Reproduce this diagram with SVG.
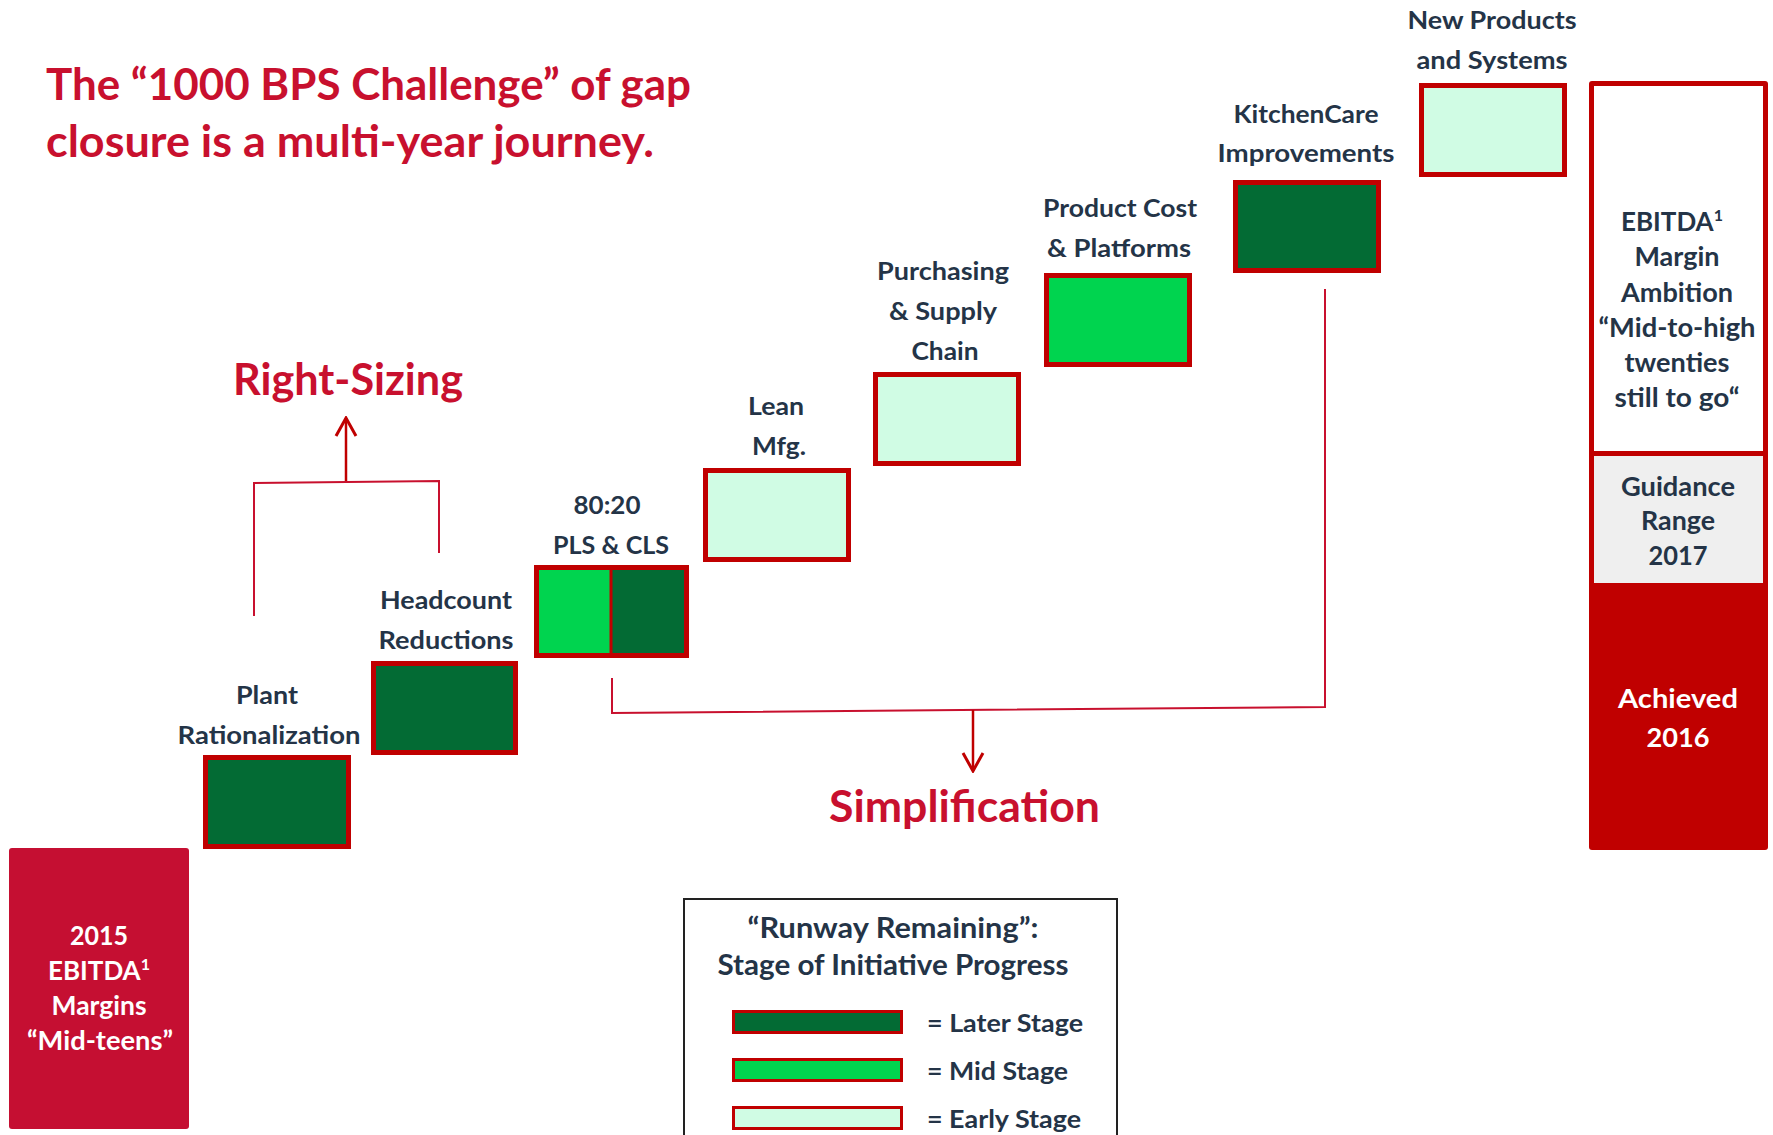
<svg xmlns="http://www.w3.org/2000/svg" width="1773" height="1135" viewBox="0 0 1773 1135">
<defs>
<style>
text{font-family:Lato,"Open Sans","Liberation Sans",sans-serif;font-weight:700}
.ttl{fill:#C8102E;font-size:44px}
.lbl{fill:#243447;font-size:25px;text-anchor:middle}
.col{fill:#243447;font-size:26px;text-anchor:middle}
.wht{fill:#FFFFFF;font-size:26px;text-anchor:middle}
.leg{fill:#243447;font-size:25px}
.legt{fill:#243447;font-size:28px;text-anchor:middle}
.box{stroke:#C00000;stroke-width:5}
.late{fill:#036B34}
.mid{fill:#00D44F}
.early{fill:#D0FCE4}
.conn{fill:none;stroke:#C8102E;stroke-width:2}
.arr{fill:none;stroke:#C00000;stroke-width:2.5}
</style>
<marker id="ah" viewBox="-21 -12 23 24" refX="0" refY="0" markerWidth="23" markerHeight="24" markerUnits="userSpaceOnUse" orient="auto">
<path d="M-18,-10 L0,0 L-18,10" fill="none" stroke="#C00000" stroke-width="3"/>
</marker>
</defs>
<rect width="1773" height="1135" fill="#FFFFFF"/>

<g id="title">
<text class="ttl" x="46" y="100" textLength="645" lengthAdjust="spacingAndGlyphs">The “1000 BPS Challenge” of gap</text>
<text class="ttl" x="46" y="157" textLength="608" lengthAdjust="spacingAndGlyphs">closure is a multi-year journey.</text>
</g>

<g id="start">
<rect x="9" y="848" width="180" height="281" rx="3" fill="#C50F32"/>
<text class="wht" x="99" y="945" textLength="58" lengthAdjust="spacingAndGlyphs">2015</text>
<text class="wht" x="99" y="980">EBITDA<tspan font-size="16" dy="-10">1</tspan></text>
<text class="wht" x="99" y="1015" textLength="95" lengthAdjust="spacingAndGlyphs">Margins</text>
<text class="wht" x="100" y="1050" textLength="146" lengthAdjust="spacingAndGlyphs">“Mid-teens”</text>
</g>

<g id="plant">
<rect class="box late" x="205.5" y="757.5" width="143" height="89"/>
<text class="lbl" x="267" y="704" textLength="62" lengthAdjust="spacingAndGlyphs">Plant</text>
<text class="lbl" x="269" y="744" textLength="183" lengthAdjust="spacingAndGlyphs">Rationalization</text>
</g>

<g id="headcount">
<rect class="box late" x="373.5" y="663.5" width="142" height="89"/>
<text class="lbl" x="446" y="609" textLength="132" lengthAdjust="spacingAndGlyphs">Headcount</text>
<text class="lbl" x="446" y="649" textLength="135" lengthAdjust="spacingAndGlyphs">Reductions</text>
</g>

<g id="pls">
<rect class="mid" x="536.5" y="567.5" width="74" height="88"/>
<rect class="late" x="611" y="567.5" width="75" height="88"/>
<rect class="box" fill="none" x="536.5" y="567.5" width="150" height="88"/>
<line x1="611" y1="567" x2="611" y2="656" stroke="#C00000" stroke-width="3"/>
<text class="lbl" x="607" y="514" textLength="67" lengthAdjust="spacingAndGlyphs">80:20</text>
<text class="lbl" x="611" y="554" textLength="116" lengthAdjust="spacingAndGlyphs">PLS &amp; CLS</text>
</g>

<g id="lean">
<rect class="box early" x="705.5" y="470.5" width="143" height="89"/>
<text class="lbl" x="776" y="415" textLength="56" lengthAdjust="spacingAndGlyphs">Lean</text>
<text class="lbl" x="779" y="455" textLength="54" lengthAdjust="spacingAndGlyphs">Mfg.</text>
</g>

<g id="purchasing">
<rect class="box early" x="875.5" y="374.5" width="143" height="89"/>
<text class="lbl" x="943" y="280" textLength="132" lengthAdjust="spacingAndGlyphs">Purchasing</text>
<text class="lbl" x="943" y="320" textLength="108" lengthAdjust="spacingAndGlyphs">&amp; Supply</text>
<text class="lbl" x="945" y="360" textLength="67" lengthAdjust="spacingAndGlyphs">Chain</text>
</g>

<g id="productcost">
<rect class="box mid" x="1046.5" y="275.5" width="143" height="89"/>
<text class="lbl" x="1120" y="217" textLength="154" lengthAdjust="spacingAndGlyphs">Product Cost</text>
<text class="lbl" x="1119" y="257" textLength="144" lengthAdjust="spacingAndGlyphs">&amp; Platforms</text>
</g>

<g id="kitchencare">
<rect class="box late" x="1235.5" y="182.5" width="143" height="88"/>
<text class="lbl" x="1306" y="123" textLength="145" lengthAdjust="spacingAndGlyphs">KitchenCare</text>
<text class="lbl" x="1306" y="162" textLength="177" lengthAdjust="spacingAndGlyphs">Improvements</text>
</g>

<g id="newproducts">
<rect class="box early" x="1421.5" y="85.5" width="143" height="89"/>
<text class="lbl" x="1492" y="29" textLength="169" lengthAdjust="spacingAndGlyphs">New Products</text>
<text class="lbl" x="1492" y="69" textLength="151" lengthAdjust="spacingAndGlyphs">and Systems</text>
</g>

<g id="ambition">
<rect x="1589" y="81" width="179" height="769" rx="3" fill="#C00000"/>
<rect x="1594" y="86" width="169" height="365" fill="#FFFFFF"/>
<rect x="1594" y="456" width="169" height="127" fill="#EFEFEF"/>
<text class="col" x="1672" y="231">EBITDA<tspan font-size="16" dy="-10">1</tspan></text>
<text class="col" x="1677" y="266" textLength="85" lengthAdjust="spacingAndGlyphs">Margin</text>
<text class="col" x="1677" y="302" textLength="112" lengthAdjust="spacingAndGlyphs">Ambition</text>
<text class="col" x="1677" y="337" textLength="157" lengthAdjust="spacingAndGlyphs">“Mid-to-high</text>
<text class="col" x="1677" y="372" textLength="105" lengthAdjust="spacingAndGlyphs">twenties</text>
<text class="col" x="1677" y="407" textLength="125" lengthAdjust="spacingAndGlyphs">still to go“</text>
<text class="col" x="1678" y="496" textLength="114" lengthAdjust="spacingAndGlyphs">Guidance</text>
<text class="col" x="1678" y="530" textLength="74" lengthAdjust="spacingAndGlyphs">Range</text>
<text class="col" x="1678" y="565" textLength="59" lengthAdjust="spacingAndGlyphs">2017</text>
<text class="wht" x="1678" y="708" textLength="120" lengthAdjust="spacingAndGlyphs">Achieved</text>
<text class="wht" x="1678" y="747" textLength="63" lengthAdjust="spacingAndGlyphs">2016</text>
</g>

<g id="rightsizing">
<text class="ttl" x="233" y="395" textLength="230" lengthAdjust="spacingAndGlyphs">Right-Sizing</text>
</g>

<g id="simplification">
<text class="ttl" x="829" y="822" font-size="42" textLength="271" lengthAdjust="spacingAndGlyphs">Simplification</text>
</g>

<g id="connectors">
<polyline class="conn" points="254,616 254,483 439,481 439,553"/>
<line class="arr" x1="346" y1="481" x2="346" y2="418" marker-end="url(#ah)"/>
<polyline class="conn" points="612,678 612,713 1325,707 1325,289"/>
<line class="arr" x1="973" y1="710" x2="973" y2="771" marker-end="url(#ah)"/>
</g>

<g id="legend">
<rect x="684" y="899" width="433" height="250" fill="none" stroke="#222222" stroke-width="2"/>
<text class="legt" x="893" y="938" textLength="291" lengthAdjust="spacingAndGlyphs">“Runway Remaining”:</text>
<text class="legt" x="893" y="975" textLength="351" lengthAdjust="spacingAndGlyphs">Stage of Initiative Progress</text>
<rect class="late" x="733.5" y="1011.5" width="168" height="21" stroke="#C00000" stroke-width="3"/>
<rect class="mid" x="733.5" y="1059.5" width="168" height="21" stroke="#C00000" stroke-width="3"/>
<rect class="early" x="733.5" y="1107.5" width="168" height="21" stroke="#C00000" stroke-width="3"/>
<text class="leg" x="927" y="1032" textLength="156" lengthAdjust="spacingAndGlyphs">= Later Stage</text>
<text class="leg" x="927" y="1080" textLength="141" lengthAdjust="spacingAndGlyphs">= Mid Stage</text>
<text class="leg" x="927" y="1128" textLength="154" lengthAdjust="spacingAndGlyphs">= Early Stage</text>
</g>
</svg>
